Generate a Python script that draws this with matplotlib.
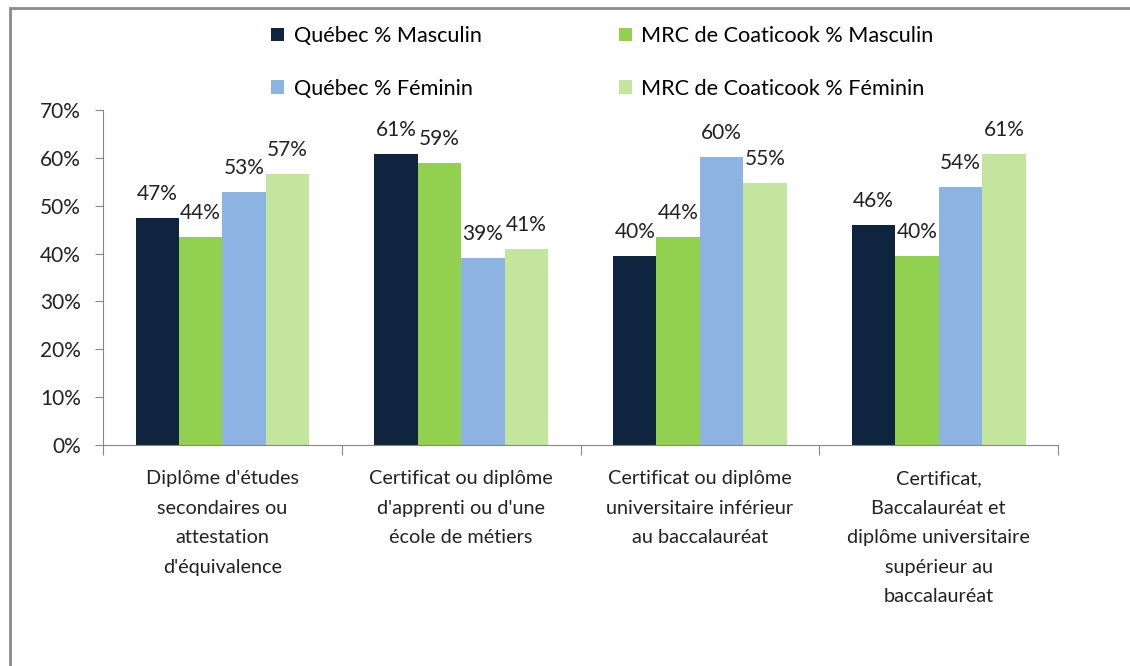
import numpy as np
import matplotlib.pyplot as plt
from matplotlib.patches import Rectangle

plt.rcParams['font.family'] = ['Lato', 'DejaVu Sans']

# Données
categories = [
    "Diplôme d'études\nsecondaires ou\nattestation\nd'équivalence",
    "Certificat ou diplôme\nd'apprenti ou d'une\nécole de métiers",
    "Certificat ou diplôme\nuniversitaire inférieur\nau baccalauréat",
    "Certificat,\nBaccalauréat et\ndiplôme universitaire\nsupérieur au\nbaccalauréat",
]
series_names = ["Québec % Masculin", "MRC de Coaticook % Masculin",
                "Québec % Féminin", "MRC de Coaticook % Féminin"]
quebec_m = [47.4, 60.8, 39.5, 46.0]
coaticook_m = [43.5, 59.0, 43.5, 39.6]
quebec_f = [52.9, 39.1, 60.2, 53.9]
coaticook_f = [56.6, 40.9, 54.8, 60.8]
colors = ["#0F243E", "#92D050", "#8DB3E2", "#C3E59D"]

values = [quebec_m, coaticook_m, quebec_f, coaticook_f]

fig = plt.figure(figsize=(11.3, 6.66), dpi=100)
ax = fig.add_axes([0.0912, 0.3318, 0.8451, 0.503])

x = np.arange(len(categories))
w = 0.182
bars = []
for i, (vals, name, col) in enumerate(zip(values, series_names, colors)):
    pos = x + (i - 1.5) * w
    b = ax.bar(pos, vals, width=w, color=col, label=name)
    bars.append(b)
    for px, v in zip(pos, vals):
        ax.text(px, v + 2.9, f"{round(v):.0f}%", ha="center", va="bottom",
                fontsize=15, color="#222222")

ax.set_xlim(-0.5, len(categories) - 0.5)
ax.set_ylim(0, 70)
ax.set_yticks(range(0, 71, 10))
ax.set_yticklabels([f"{t}%" for t in range(0, 71, 10)])
ax.set_xticks(np.arange(-0.5, len(categories), 1.0))
ax.set_xticklabels([])
ax.set_xticks(x, minor=True)
ax.set_xticklabels(categories, minor=True, fontsize=14.3, linespacing=1.9,
                   color="#222222")
ax.tick_params(axis="x", which="minor", length=0, pad=18)
ax.tick_params(axis="x", which="major", length=7, color="#868686")
ax.tick_params(axis="y", length=6, color="#868686", labelsize=15,
               labelcolor="#222222", pad=10)

for s in ["top", "right"]:
    ax.spines[s].set_visible(False)
ax.spines["left"].set_color("#868686")
ax.spines["bottom"].set_color("#868686")

handles = [bars[0], bars[2], bars[1], bars[3]]
labels = [series_names[0], series_names[2], series_names[1], series_names[3]]
fig.legend(handles, labels, ncol=2, loc="upper left",
           bbox_to_anchor=(0.223, 0.99), frameon=False, fontsize=15.6,
           handlelength=0.6, handleheight=0.6, handletextpad=0.45,
           columnspacing=6.3, labelspacing=1.5)

# cadre
fig.patches.append(Rectangle((10 / 1130, -0.1), 1.2, 1.1 - 8 / 666,
                             transform=fig.transFigure, fill=False,
                             edgecolor="#8A8A8A", linewidth=2))

fig.savefig("out.png", dpi=100, facecolor="white")
